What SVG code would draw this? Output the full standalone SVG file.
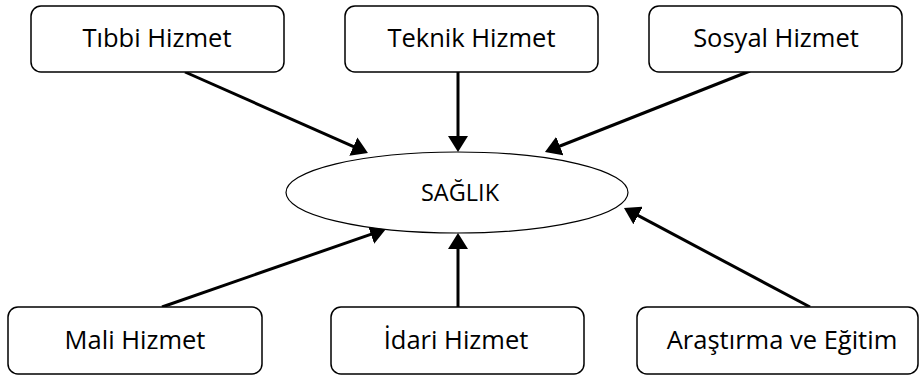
<svg xmlns="http://www.w3.org/2000/svg" width="924" height="379" viewBox="0 0 924 379">
  <style>
    .box { fill: #ffffff; stroke: #000000; stroke-width: 1.5; }
    .hub { fill: #ffffff; stroke: #000000; stroke-width: 1.2; }
    .lbl { font-family: "Open Sans", "Liberation Sans", sans-serif; font-size: 25.5px; fill: #000000; text-anchor: middle; }
    .hub-lbl { font-size: 23.5px; }
    .link { stroke: #000000; stroke-width: 3; fill: none; marker-end: url(#head); }
  </style>
  <defs>
    <marker id="head" markerUnits="userSpaceOnUse" markerWidth="16" markerHeight="20" refX="12" refY="10" orient="auto">
      <path d="M0,0 L16,10 L0,20 z" fill="#000000"/>
    </marker>
  </defs>
  <rect width="924" height="379" fill="#ffffff"/>

  <g id="connectors">
    <line class="link" x1="185" y1="72" x2="364.3" y2="151.4"/>
    <line class="link" x1="458" y1="72" x2="458" y2="148"/>
    <line class="link" x1="750" y1="71" x2="548.7" y2="150.5"/>
    <line class="link" x1="162" y1="307" x2="382.2" y2="230.3"/>
    <line class="link" x1="458" y1="307" x2="458" y2="237"/>
    <line class="link" x1="810" y1="307" x2="627.5" y2="209.9"/>
  </g>

  <g id="saglik">
    <ellipse class="hub" cx="457" cy="192.5" rx="171" ry="40.5"/>
    <text class="lbl hub-lbl" x="460" y="201">SAĞLIK</text>
  </g>

  <g id="tibbi-hizmet">
    <rect class="box" x="31" y="6" width="253" height="66" rx="10"/>
    <text class="lbl" x="157" y="47">Tıbbi Hizmet</text>
  </g>
  <g id="teknik-hizmet">
    <rect class="box" x="345" y="6" width="253" height="66" rx="10"/>
    <text class="lbl" x="471.5" y="47">Teknik Hizmet</text>
  </g>
  <g id="sosyal-hizmet">
    <rect class="box" x="649" y="6" width="253" height="66" rx="10"/>
    <text class="lbl" x="776" y="47">Sosyal Hizmet</text>
  </g>
  <g id="mali-hizmet">
    <rect class="box" x="8" y="307" width="254" height="67" rx="10"/>
    <text class="lbl" x="135" y="349">Mali Hizmet</text>
  </g>
  <g id="idari-hizmet">
    <rect class="box" x="331" y="307" width="253" height="67" rx="10"/>
    <text class="lbl" x="456" y="349">İdari Hizmet</text>
  </g>
  <g id="arastirma-egitim">
    <rect class="box" x="637" y="307" width="281" height="67" rx="10"/>
    <text class="lbl" x="782" y="349">Araştırma ve Eğitim</text>
  </g>
</svg>
